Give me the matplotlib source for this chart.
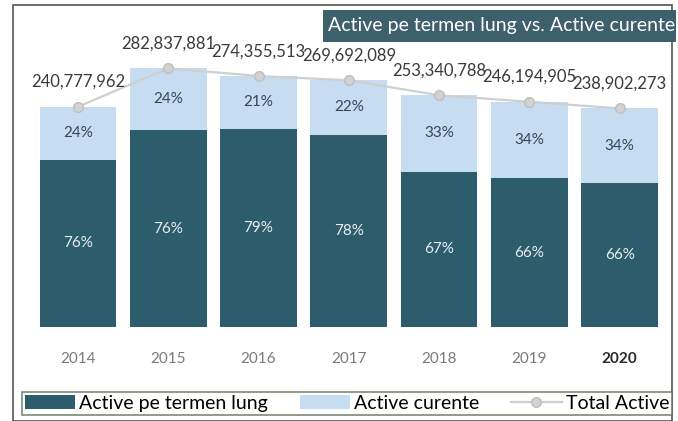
import matplotlib.pyplot as plt
from matplotlib.patches import Rectangle
import numpy as np

plt.rcParams['font.family'] = ['Lato', 'DejaVu Sans']

years = ['2014', '2015', '2016', '2017', '2018', '2019', '2020']
total = [240777962, 282837881, 274355513, 269692089, 253340788, 246194905, 238902273]
pct_long = [76, 76, 79, 78, 67, 66, 66]
pct_curr = [24, 24, 21, 22, 33, 34, 34]

dark = '#2d5d6d'
light = '#c6dcf0'
grey_line = '#cfcfcf'

total = np.array(total, dtype=float)
long_vals = total * np.array(pct_long) / 100
curr_vals = total - long_vals
x = np.arange(len(years))

fig = plt.figure(figsize=(6.78, 4.21), dpi=100)
ax = fig.add_axes([13 / 678, (421 - 327) / 421, (672 - 13) / 678, 322 / 421])

b1 = ax.bar(x, long_vals, width=0.85, color=dark, label='Active pe termen lung')
b2 = ax.bar(x, curr_vals, width=0.85, bottom=long_vals, color=light, label='Active curente')
ln, = ax.plot(x, total, color=grey_line, lw=1.6, marker='o', ms=7, mfc='#d2d2d2', mec='#c0c0c0',
              label='Total Active')

for i in range(len(x)):
    ax.text(x[i], long_vals[i] / 2, f'{pct_long[i]}%', ha='center', va='center',
            color='#e8eef2', fontsize=11)
    ax.text(x[i], long_vals[i] + curr_vals[i] / 2, f'{pct_curr[i]}%', ha='center', va='center',
            color='#34465a', fontsize=11)
    ax.annotate(f'{int(total[i]):,}', (x[i], total[i]), xytext=(0, 12), textcoords='offset points',
                ha='center', va='bottom', fontsize=12, color='#3a3a3a')

ax.set_xlim(-0.72, 6.58)
ax.set_ylim(0, 352e6)
ax.set_yticks([])
ax.set_xticks(x)
ax.set_xticklabels(years, fontsize=11, color='#7a7a7a')
ax.get_xticklabels()[-1].set_color('#2a2a2a')
ax.get_xticklabels()[-1].set_fontweight('bold')
ax.tick_params(axis='x', length=0, pad=18)
for s in ax.spines.values():
    s.set_visible(False)

# outer frame
fig.patches.append(Rectangle((13 / 678, 0), (672 - 13) / 678, (421 - 5) / 421,
                             transform=fig.transFigure, fill=False, ec='#555555', lw=1.2))

# title box
fig.patches.append(Rectangle((323 / 678, 1 - 42 / 421), (676 - 323) / 678, 32 / 421,
                             transform=fig.transFigure, fc='#3e5f6c', ec='none'))
fig.text(328 / 678, 1 - 26 / 421, 'Active pe termen lung vs. Active curente', ha='left', va='center',
         fontsize=14, color='white')

leg = fig.legend([b1, b2, ln], ['Active pe termen lung', 'Active curente', 'Total Active'],
                 loc='lower left', bbox_to_anchor=(22 / 678, 6 / 421, 650 / 678, 27 / 421),
                 mode='expand', ncol=3, fontsize=14,
                 frameon=True, fancybox=False, edgecolor='#5f6b55', handlelength=2.6,
                 columnspacing=0.9, borderpad=0.15, handletextpad=0.2, borderaxespad=0)
leg.get_frame().set_linewidth(1.2)

fig.savefig('out.png', dpi=100)
